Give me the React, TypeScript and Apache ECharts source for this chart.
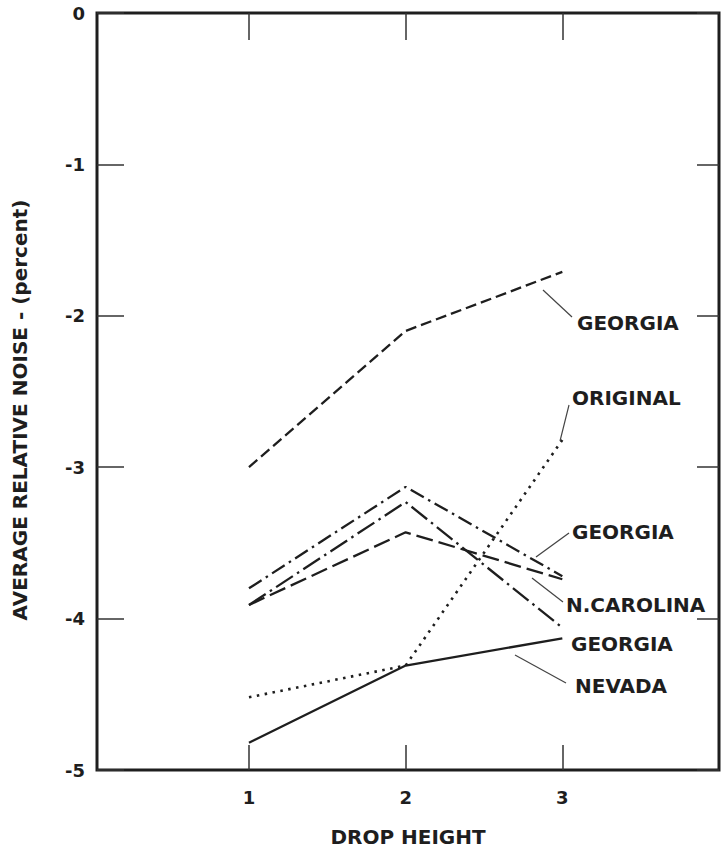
import React, { useEffect, useRef } from "react";
import * as echarts from "echarts";

// Drop height categories on the x axis
const dropHeights = [1, 2, 3];

// Average relative noise (percent) per source material
const georgiaDashed = [-3.0, -2.1, -1.71];
const original = [-4.52, -4.31, -2.82];
const georgiaDashDot = [-3.8, -3.13, -3.72];
const nCarolina = [-3.91, -3.43, -3.74];
const georgiaLongDashDot = [-3.91, -3.23, -4.06];
const nevada = [-4.82, -4.31, -4.13];

const INK = "#1e1e1e";
const FONT = '"DejaVu Sans", "Liberation Sans", sans-serif';
const Y_TITLE = "AVERAGE RELATIVE NOISE - (percent)";

const pairs = (ys: number[]) => dropHeights.map((x, i) => [x, ys[i]]);

// Curve annotations: label text, label anchor (left, middle) and optional leader line
const annotations: { text: string; x: number; y: number; leader?: number[] }[] = [
  { text: "GEORGIA", x: 577, y: 323, leader: [543, 290, 572, 317] },
  { text: "ORIGINAL", x: 572, y: 398, leader: [560, 441, 569, 405] },
  { text: "GEORGIA", x: 572, y: 532, leader: [536, 557, 569, 533] },
  { text: "N.CAROLINA", x: 566, y: 605, leader: [532, 578, 563, 602] },
  { text: "GEORGIA", x: 571, y: 644 },
  { text: "NEVADA", x: 575, y: 686, leader: [515, 655, 566, 683] },
];

export default function App() {
  const ref = useRef<HTMLDivElement>(null);

  useEffect(() => {
    document.body.style.margin = "0";
    if (!ref.current) return;
    const chart = echarts.init(ref.current, null, { renderer: "svg" });

    const line = (name: string, ys: number[], type: any, width = 2.3) => ({
      name,
      type: "line",
      data: pairs(ys),
      showSymbol: false,
      symbol: "none",
      lineStyle: { color: INK, width, type, cap: "butt" },
      z: 3,
    });

    const graphic: any[] = [
      {
        type: "text",
        x: 20,
        y: 410,
        rotation: Math.PI / 2,
        style: {
          text: Y_TITLE,
          fill: INK,
          font: `bold 20px ${FONT}`,
          textAlign: "center",
          textVerticalAlign: "middle",
        },
      },
    ];
    annotations.forEach((a) => {
      if (a.leader) {
        graphic.push({
          type: "line",
          shape: { x1: a.leader[0], y1: a.leader[1], x2: a.leader[2], y2: a.leader[3] },
          style: { stroke: "#444", lineWidth: 1.2 },
        });
      }
      graphic.push({
        type: "text",
        x: a.x,
        y: a.y,
        style: {
          text: a.text,
          fill: INK,
          font: `bold 20px ${FONT}`,
          textAlign: "left",
          textVerticalAlign: "middle",
        },
      });
    });

    const tickStyle = { color: "#333", width: 1.5 };
    const noLine = { show: false, onZero: false };

    chart.setOption({
      animation: false,
      backgroundColor: "#fff",
      grid: {
        left: 97,
        right: 2,
        top: 13,
        bottom: 79,
        show: true,
        borderColor: INK,
        borderWidth: 3,
        backgroundColor: "transparent",
      },
      xAxis: [
        {
          type: "value",
          position: "bottom",
          min: 0.03,
          max: 4,
          axisLine: noLine,
          splitLine: { show: false },
          axisTick: { inside: true, length: 25, customValues: dropHeights, lineStyle: tickStyle },
          axisLabel: {
            customValues: dropHeights,
            color: INK,
            fontWeight: "bold",
            fontSize: 18,
            fontFamily: FONT,
            margin: 18,
          },
          name: "DROP HEIGHT",
          nameLocation: "middle",
          nameGap: 57,
          nameTextStyle: { color: INK, fontWeight: "bold", fontSize: 20, fontFamily: FONT },
        },
        {
          type: "value",
          position: "top",
          min: 0.03,
          max: 4,
          axisLine: noLine,
          splitLine: { show: false },
          axisTick: { inside: true, length: 27, customValues: dropHeights, lineStyle: tickStyle },
          axisLabel: { show: false },
        },
      ],
      yAxis: [
        {
          type: "value",
          position: "left",
          min: -5,
          max: 0,
          interval: 1,
          axisLine: noLine,
          splitLine: { show: false },
          axisTick: { inside: true, length: 27, lineStyle: tickStyle },
          axisLabel: {
            color: INK,
            fontWeight: "bold",
            fontSize: 18,
            fontFamily: FONT,
            margin: 12,
            formatter: (v: number) => String(v),
          },
        },
        {
          type: "value",
          position: "right",
          min: -5,
          max: 0,
          interval: 1,
          axisLine: noLine,
          splitLine: { show: false },
          axisTick: { inside: true, length: 22, lineStyle: tickStyle },
          axisLabel: { show: false },
        },
      ],
      series: [
        line("Georgia (dashed)", georgiaDashed, [11, 5]),
        line("Original", original, [2.5, 5.5], 2.6),
        line("Georgia (dash-dot)", georgiaDashDot, [15, 5, 2.5, 5]),
        line("N. Carolina", nCarolina, [17, 6]),
        line("Georgia (long dash-dot)", georgiaLongDashDot, [20, 5, 2.5, 5]),
        line("Nevada", nevada, "solid"),
      ],
      graphic,
    });

    return () => chart.dispose();
  }, []);

  return <div ref={ref} style={{ width: 721, height: 852, background: "#fff" }} />;
}
